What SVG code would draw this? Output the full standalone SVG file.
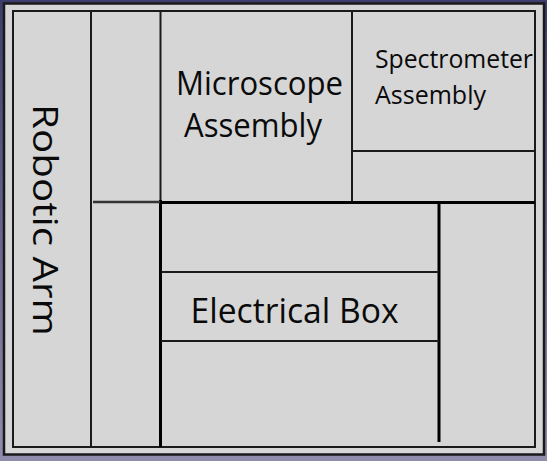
<svg xmlns="http://www.w3.org/2000/svg" width="547" height="461" viewBox="0 0 547 461">
  <defs>
    <linearGradient id="bg" x1="0" y1="0" x2="0" y2="1">
      <stop offset="0" stop-color="#3d3d6d"/>
      <stop offset="1" stop-color="#908cad"/>
    </linearGradient>
  </defs>
  <style>
    .frame { fill: #d6d6d6; stroke: #1a1a1a; }
    .thin { stroke: #1a1a1a; stroke-width: 2; fill: none; }
    .thick { stroke: #000; stroke-width: 3; fill: none; }
    .label { font-family: "Open Sans", "Noto Sans", sans-serif; fill: #0a0a0a; }
  </style>

  <!-- backdrop -->
  <rect x="0" y="0" width="547" height="461" fill="url(#bg)"/>

  <!-- enclosure -->
  <rect class="frame" x="4" y="3.5" width="540" height="451" stroke-width="2.5"/>
  <rect class="frame" x="13" y="11" width="522" height="436" stroke-width="2"/>

  <!-- partitions -->
  <g id="partitions">
    <line class="thin" x1="91" y1="11" x2="91" y2="447"/>
    <line class="thin" x1="160.5" y1="11" x2="160.5" y2="202"/>
    <line class="thick" x1="160.5" y1="200" x2="160.5" y2="447"/>
    <line class="thin" x1="352" y1="11" x2="352" y2="202"/>
    <line class="thin" x1="352" y1="151" x2="535" y2="151"/>
    <line x1="93" y1="202" x2="160" y2="202" stroke="#333" stroke-width="2.5"/>
    <line class="thick" x1="160" y1="202.5" x2="535" y2="202.5"/>
    <line class="thick" x1="439" y1="202" x2="439" y2="442"/>
    <line class="thin" x1="161" y1="272" x2="439" y2="272"/>
    <line class="thin" x1="161" y1="341" x2="439" y2="341"/>
  </g>

  <!-- labelled compartments -->
  <g id="robotic-arm">
    <text class="label" font-size="34" transform="translate(32.5,104) rotate(90)" textLength="232" lengthAdjust="spacingAndGlyphs">Robotic Arm</text>
  </g>
  <g id="microscope-assembly">
    <text class="label" font-size="33" x="176" y="94.5" textLength="167" lengthAdjust="spacingAndGlyphs">Microscope</text>
    <text class="label" font-size="33" x="184" y="137" textLength="138" lengthAdjust="spacingAndGlyphs">Assembly</text>
  </g>
  <g id="spectrometer-assembly">
    <text class="label" font-size="25" x="375" y="67.5" textLength="158" lengthAdjust="spacingAndGlyphs">Spectrometer</text>
    <text class="label" font-size="25" x="375" y="103.5" textLength="111" lengthAdjust="spacingAndGlyphs">Assembly</text>
  </g>
  <g id="electrical-box">
    <text class="label" font-size="34" x="190.5" y="323" textLength="208" lengthAdjust="spacingAndGlyphs">Electrical Box</text>
  </g>
</svg>
